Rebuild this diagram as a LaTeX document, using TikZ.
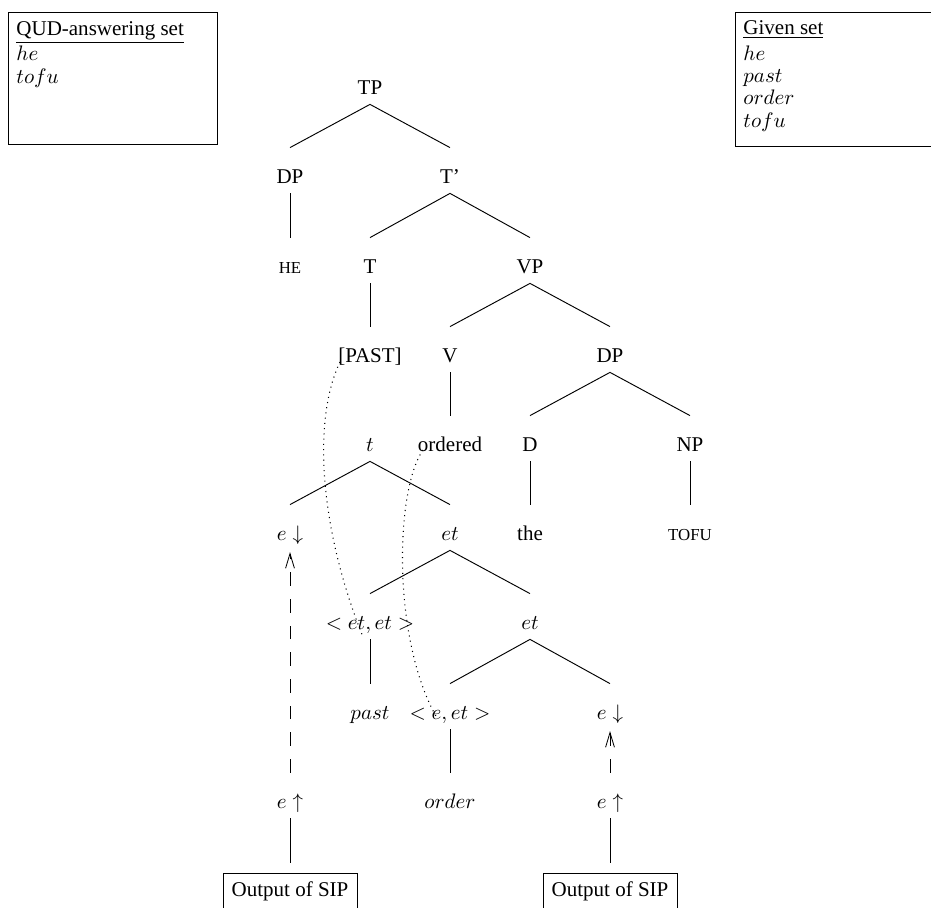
\documentclass[tikz,border=0pt]{standalone}
\usepackage{fontspec}
\setmainfont{Liberation Serif}
\usetikzlibrary{arrows.meta}
\begin{document}
\begin{tikzpicture}[x=0.476pt,y=-0.476pt,
  tn/.style={inner sep=0pt, minimum height=15.2pt, text height=6.6pt, text depth=0.4pt},
  edge/.style={line width=0.45pt},
  lbl/.style={inner sep=0pt, anchor=base west},
  setbox/.style={draw, anchor=north west, inner sep=0pt},
  sipbox/.style={draw, minimum width=63.8pt, minimum height=17.1pt, inner sep=0pt},
  dep/.style={line width=0.4pt, dash pattern=on 6.5pt off 6.2pt, -{Straight Barb[length=7pt,width=4.2pt]}},
  link/.style={dotted, line width=0.5pt}]
\useasboundingbox (0,0) rectangle (931,907);
\clip (0,0) rectangle (931,907);

% set boxes
\node[setbox, minimum width=99.5pt, minimum height=62.8pt] (qudbox) at (8,12) {};
\node[lbl] (qudt) at (16,35) {\underline{QUD-answering set}};
\node[lbl] (qud1) at (16,60) {$he$};
\node[lbl] (qud2) at (16,83) {$tofu$};

\node[setbox, minimum width=100pt, minimum height=63.8pt] (givbox) at (735,12) {};
\node[lbl] (givt) at (743,34) {\underline{Given set}};
\node[lbl] (giv1) at (743,60) {$he$};
\node[lbl] (giv2) at (743,82) {$past$};
\node[lbl] (giv3) at (743,104) {$order$};
\node[lbl] (giv4) at (743,127) {$tofu$};

% syntactic tree
\node[tn] (TP) at (370,88) {TP};
\node[tn] (DPa) at (290,177) {DP};
\node[tn] (Tbar) at (450,177) {T'};
\node[tn] (HE) at (290,267) {\footnotesize HE};
\node[tn] (T) at (370,267) {T};
\node[tn] (VP) at (530,267) {VP};
\node[tn] (PAST) at (370,356) {[PAST]};
\node[tn] (V) at (450,356) {V};
\node[tn] (DPb) at (610,356) {DP};
\node[tn] (ordered) at (450,445) {ordered};
\node[tn] (D) at (530,445) {D};
\node[tn] (NP) at (690,445) {NP};
\node[tn] (the) at (530,534) {the};
\node[tn] (TOFU) at (690,534) {\footnotesize TOFU};

% semantic tree
\node[tn] (t) at (370,445) {$t$};
\node[tn] (edn) at (290,534) {$e\downarrow$};
\node[tn] (eta) at (450,534) {$et$};
\node[tn] (etet) at (370,623) {$<et,et>$};
\node[tn] (etb) at (530,623) {$et$};
\node[tn] (past) at (370,713) {$past$};
\node[tn] (eet) at (450,713) {$<e,et>$};
\node[tn] (ednb) at (610,713) {$e\downarrow$};
\node[tn] (eup) at (290,802) {$e\uparrow$};
\node[tn] (order) at (450,802) {$order$};
\node[tn] (eupb) at (610,802) {$e\uparrow$};
\node[sipbox] (sipa) at (290,891) {Output of SIP};
\node[sipbox] (sipb) at (610,891) {Output of SIP};

% tree edges
\foreach \p/\c in {TP/DPa, TP/Tbar, DPa/HE, Tbar/T, Tbar/VP, T/PAST, VP/V, VP/DPb,
                   V/ordered, DPb/D, DPb/NP, D/the, NP/TOFU,
                   t/edn, t/eta, eta/etet, eta/etb, etet/past, etb/eet, etb/ednb, eet/order}
  \draw[edge] (\p.south) -- ([yshift=6.2pt]\c.north);

% SIP connections
\draw[edge] (eup.south) -- ([yshift=4.76pt]sipa.north);
\draw[edge] (eupb.south) -- ([yshift=4.76pt]sipb.north);

% dashed dependencies
\draw[dep] ([yshift=6.2pt]eup.north) -- ([yshift=-0.8pt]edn.south);
\draw[dep] ([yshift=6.2pt]eupb.north) -- ([yshift=-0.8pt]ednb.south);

% dotted links
\coordinate (la) at (340,362);
\coordinate (lb) at (363,637);
\coordinate (lc) at (423,450);
\coordinate (ld) at (437,718);
\draw[link] (la) .. controls (312,420) and (320,530) .. (lb);
\draw[link] (lc) .. controls (395,490) and (392,640) .. (ld);
\end{tikzpicture}
\end{document}
